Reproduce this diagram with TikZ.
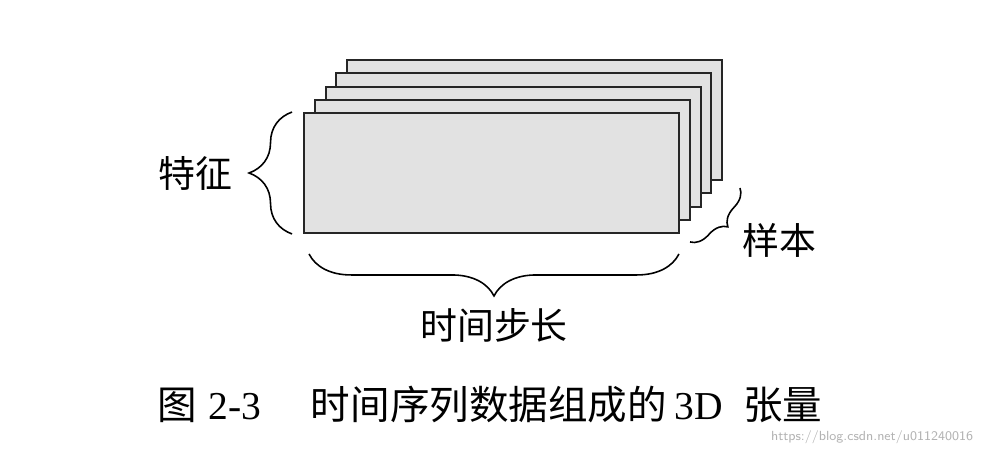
\documentclass[tikz,border=0pt]{standalone}
\usepackage{fontspec}
\setmainfont{Liberation Serif}
\newfontfamily\cjk{Noto Sans CJK SC}
\usepackage{tikz}
\usetikzlibrary{positioning}
\usetikzlibrary{decorations.pathreplacing}
\definecolor{sheetgray}{HTML}{E2E2E2}
\begin{document}
\begin{tikzpicture}[
        layer/.style={rectangle, draw=black!85, fill=sheetgray, line width=1.1pt, minimum width=7.5cm, minimum height=2.4cm, inner sep=0pt},
        curly/.style={decorate, decoration={brace, amplitude=#1}, line width=0.9pt},
        tag/.style={font=\cjk\fontsize{21}{24}\selectfont},
    ]
    \useasboundingbox (0,0) rectangle (20,9.04);
    % five stacked sheets, back to front
    \foreach \i in {4,3,2,1,0}
        \node[layer] (l\i) at ({9.83+0.216*\i},{5.58+0.264*\i}) {};
    \draw[curly=0.86cm] ([xshift=-0.22cm]l0.south west) -- ([xshift=-0.22cm]l0.north west);
    \draw[curly=0.84cm] ([xshift=-0.02cm,yshift=-0.4cm]l0.south east) -- ([xshift=0.12cm,yshift=-0.4cm]l0.south west);
    \coordinate (s1) at (14.8,5.28);
    \coordinate (s2) at (13.8,4.2);
    \draw[curly=0.35cm] (s1) -- (s2);
    \node[tag] (feat) at (3.9,5.58) {特征};
    \node[tag] (time) at (9.88,2.54) {时间步长};
    \node[tag] (samp) at (15.58,4.24) {样本};
    \node[font=\fontsize{22.5}{26}\selectfont] (cap) at (9.8,0.94) {{\cjk 图}\hspace{0.22cm}2-3\hspace{1cm}{\cjk 时间序列数据组成的}\hspace{0.16cm}3D\hspace{0.4cm}{\cjk 张量}};
    \node[font=\sffamily\fontsize{7.5}{9}\selectfont, text=black!30] (url) at (17.44,0.3) {https://blog.csdn.net/u011240016};
\end{tikzpicture}
\end{document}
